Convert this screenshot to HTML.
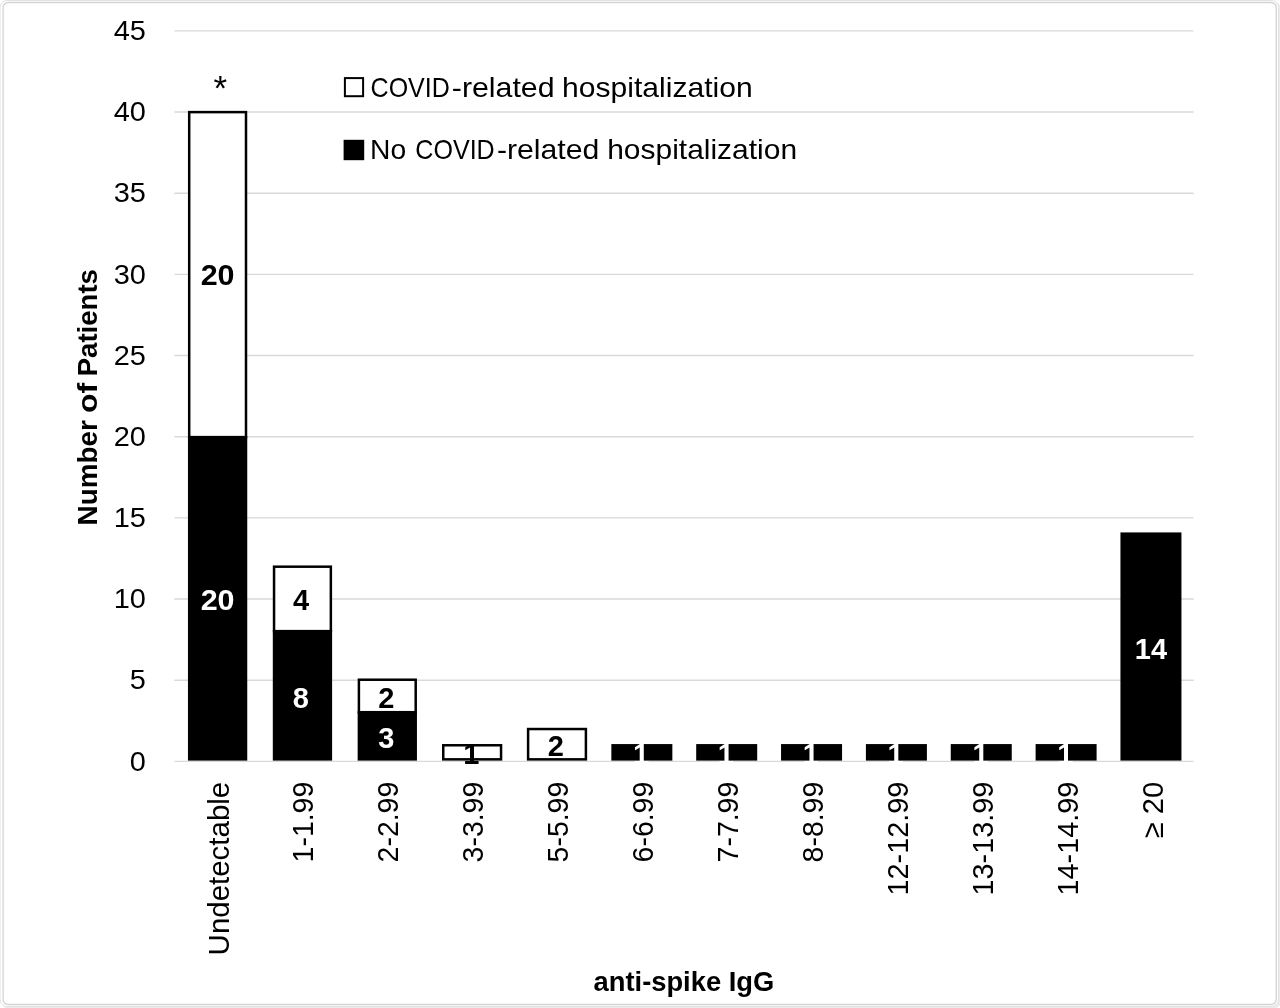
<!DOCTYPE html>
<html lang="en"><head><meta charset="utf-8"><title>anti-spike IgG chart</title>
<style>html,body{margin:0;padding:0;background:#fff;}body{width:1280px;height:1008px;overflow:hidden;}svg{display:block;}text{font-family:"Liberation Sans", sans-serif;font-size:27.6px;fill:#000;}.b{font-weight:bold;}.xl{font-size:29.8px;}.dl{font-size:29px;}.ti{font-size:28.3px;}.w{fill:#fff;}</style></head><body>
<svg width="1280" height="1008" viewBox="0 0 1280 1008">
<rect x="0" y="0" width="1280" height="1008" fill="#fff"/>
<rect x="1.2" y="1.2" width="1279.5" height="1007.5" rx="7.5" ry="7.5" fill="#ebebeb"/>
<rect x="0.1" y="0.5" width="1278.4" height="1006" rx="7" ry="7" fill="#fff" stroke="#e2e2e2" stroke-width="1"/>
<rect x="3.1" y="2.5" width="1273.1" height="1002" rx="5" ry="5" fill="#fff" stroke="#d3d3d3" stroke-width="1.3"/>
<line x1="174.4" y1="761.40" x2="1193.6" y2="761.40" stroke="#d9d9d9" stroke-width="1.4"/>
<line x1="174.4" y1="680.23" x2="1193.6" y2="680.23" stroke="#d9d9d9" stroke-width="1.4"/>
<line x1="174.4" y1="599.06" x2="1193.6" y2="599.06" stroke="#d9d9d9" stroke-width="1.4"/>
<line x1="174.4" y1="517.88" x2="1193.6" y2="517.88" stroke="#d9d9d9" stroke-width="1.4"/>
<line x1="174.4" y1="436.71" x2="1193.6" y2="436.71" stroke="#d9d9d9" stroke-width="1.4"/>
<line x1="174.4" y1="355.54" x2="1193.6" y2="355.54" stroke="#d9d9d9" stroke-width="1.4"/>
<line x1="174.4" y1="274.37" x2="1193.6" y2="274.37" stroke="#d9d9d9" stroke-width="1.4"/>
<line x1="174.4" y1="193.20" x2="1193.6" y2="193.20" stroke="#d9d9d9" stroke-width="1.4"/>
<line x1="174.4" y1="112.02" x2="1193.6" y2="112.02" stroke="#d9d9d9" stroke-width="1.4"/>
<line x1="174.4" y1="30.85" x2="1193.6" y2="30.85" stroke="#d9d9d9" stroke-width="1.4"/>
<text x="145.9" y="770.60" text-anchor="end" textLength="16.1" lengthAdjust="spacingAndGlyphs">0</text>
<text x="145.9" y="689.43" text-anchor="end" textLength="16.1" lengthAdjust="spacingAndGlyphs">5</text>
<text x="145.9" y="608.26" text-anchor="end" textLength="32.2" lengthAdjust="spacingAndGlyphs">10</text>
<text x="145.9" y="527.08" text-anchor="end" textLength="32.2" lengthAdjust="spacingAndGlyphs">15</text>
<text x="145.9" y="445.91" text-anchor="end" textLength="32.2" lengthAdjust="spacingAndGlyphs">20</text>
<text x="145.9" y="364.74" text-anchor="end" textLength="32.2" lengthAdjust="spacingAndGlyphs">25</text>
<text x="145.9" y="283.57" text-anchor="end" textLength="32.2" lengthAdjust="spacingAndGlyphs">30</text>
<text x="145.9" y="202.40" text-anchor="end" textLength="32.2" lengthAdjust="spacingAndGlyphs">35</text>
<text x="145.9" y="121.22" text-anchor="end" textLength="32.2" lengthAdjust="spacingAndGlyphs">40</text>
<text x="145.9" y="40.05" text-anchor="end" textLength="32.2" lengthAdjust="spacingAndGlyphs">45</text>
<rect x="187.95" y="436.01" width="59.30" height="324.59" fill="#000"/>
<rect x="189.20" y="112.12" width="56.80" height="324.99" fill="#fff" stroke="#000" stroke-width="2.5"/>
<rect x="272.80" y="630.02" width="59.30" height="130.58" fill="#000"/>
<rect x="274.05" y="566.69" width="56.80" height="64.44" fill="#fff" stroke="#000" stroke-width="2.5"/>
<rect x="357.65" y="711.10" width="59.30" height="49.50" fill="#000"/>
<rect x="358.90" y="679.73" width="56.80" height="32.47" fill="#fff" stroke="#000" stroke-width="2.5"/>
<rect x="443.25" y="745.27" width="57.80" height="14.08" fill="#fff" stroke="#000" stroke-width="2.5"/>
<rect x="528.10" y="729.03" width="57.80" height="30.32" fill="#fff" stroke="#000" stroke-width="2.5"/>
<rect x="611.35" y="744.07" width="61.00" height="16.53" fill="#000"/>
<rect x="696.20" y="744.07" width="61.00" height="16.53" fill="#000"/>
<rect x="781.05" y="744.07" width="61.00" height="16.53" fill="#000"/>
<rect x="865.90" y="744.07" width="61.00" height="16.53" fill="#000"/>
<rect x="950.75" y="744.07" width="61.00" height="16.53" fill="#000"/>
<rect x="1035.60" y="744.07" width="61.00" height="16.53" fill="#000"/>
<rect x="1120.45" y="532.42" width="61.00" height="228.18" fill="#000"/>
<text class="b w dl" x="217.60" y="610.16" text-anchor="middle" textLength="33.9" lengthAdjust="spacingAndGlyphs">20</text>
<text class="b dl" x="217.60" y="285.47" text-anchor="middle" textLength="33.9" lengthAdjust="spacingAndGlyphs">20</text>
<text class="b w dl" x="300.85" y="707.56" text-anchor="middle">8</text>
<text class="b dl" x="300.95" y="610.16" text-anchor="middle">4</text>
<text class="b w dl" x="386.20" y="748.15" text-anchor="middle">3</text>
<text class="b dl" x="386.20" y="707.56" text-anchor="middle">2</text>
<text class="b dl" x="471.35" y="764.38" text-anchor="middle">1</text>
<text class="b dl" x="555.90" y="756.27" text-anchor="middle">2</text>
<text class="b w dl" x="641.05" y="764.38" text-anchor="middle">1</text>
<text class="b w dl" x="725.90" y="764.38" text-anchor="middle">1</text>
<text class="b w dl" x="810.75" y="764.38" text-anchor="middle">1</text>
<text class="b w dl" x="895.60" y="764.38" text-anchor="middle">1</text>
<text class="b w dl" x="980.45" y="764.38" text-anchor="middle">1</text>
<text class="b w dl" x="1065.30" y="764.38" text-anchor="middle">1</text>
<text class="b w dl" x="1150.95" y="658.86" text-anchor="middle">14</text>
<text x="220.3" y="99.9" text-anchor="middle" style="font-size:35px">*</text>
<text class="xl" transform="translate(229.25 781.8) rotate(-90)" text-anchor="end" textLength="173.6" lengthAdjust="spacingAndGlyphs">Undetectable</text>
<text class="xl" transform="translate(313.25 781.8) rotate(-90)" text-anchor="end" textLength="80.6" lengthAdjust="spacingAndGlyphs">1-1.99</text>
<text class="xl" transform="translate(398.25 781.8) rotate(-90)" text-anchor="end" textLength="80.6" lengthAdjust="spacingAndGlyphs">2-2.99</text>
<text class="xl" transform="translate(483.25 781.8) rotate(-90)" text-anchor="end" textLength="80.6" lengthAdjust="spacingAndGlyphs">3-3.99</text>
<text class="xl" transform="translate(568.25 781.8) rotate(-90)" text-anchor="end" textLength="80.6" lengthAdjust="spacingAndGlyphs">5-5.99</text>
<text class="xl" transform="translate(653.25 781.8) rotate(-90)" text-anchor="end" textLength="80.6" lengthAdjust="spacingAndGlyphs">6-6.99</text>
<text class="xl" transform="translate(738.25 781.8) rotate(-90)" text-anchor="end" textLength="80.6" lengthAdjust="spacingAndGlyphs">7-7.99</text>
<text class="xl" transform="translate(823.25 781.8) rotate(-90)" text-anchor="end" textLength="80.6" lengthAdjust="spacingAndGlyphs">8-8.99</text>
<text class="xl" transform="translate(908.25 781.8) rotate(-90)" text-anchor="end" textLength="113.6" lengthAdjust="spacingAndGlyphs">12-12.99</text>
<text class="xl" transform="translate(993.25 781.8) rotate(-90)" text-anchor="end" textLength="113.6" lengthAdjust="spacingAndGlyphs">13-13.99</text>
<text class="xl" transform="translate(1078.25 781.8) rotate(-90)" text-anchor="end" textLength="113.6" lengthAdjust="spacingAndGlyphs">14-14.99</text>
<text class="xl" transform="translate(1163.25 781.8) rotate(-90)" text-anchor="end" textLength="56.4" lengthAdjust="spacingAndGlyphs">≥ 20</text>
<text class="b ti" transform="translate(96.9 523.4) rotate(-90)"><tspan x="-2.0" textLength="105.3" lengthAdjust="spacingAndGlyphs">Number</tspan> <tspan x="110.3" textLength="30.2" lengthAdjust="spacingAndGlyphs">of</tspan> <tspan x="147.1" textLength="107.2" lengthAdjust="spacingAndGlyphs">Patients</tspan></text>
<text class="b ti" x="683.9" y="991.1" text-anchor="middle" textLength="180.7" lengthAdjust="spacingAndGlyphs">anti-spike IgG</text>
<rect x="344.9" y="78.1" width="18.2" height="18.1" fill="#fff" stroke="#000" stroke-width="2"/>
<rect x="343.6" y="139.8" width="20.6" height="20.4" fill="#000"/>
<text y="96.7"><tspan x="370.6" textLength="79.2" lengthAdjust="spacingAndGlyphs">COVID</tspan><tspan x="451.8" textLength="102.8" lengthAdjust="spacingAndGlyphs">-related</tspan> <tspan x="562.1" textLength="190.6" lengthAdjust="spacingAndGlyphs">hospitalization</tspan></text>
<text y="158.9"><tspan x="370.0" textLength="36.1" lengthAdjust="spacingAndGlyphs">No</tspan> <tspan x="415.3" textLength="79.4" lengthAdjust="spacingAndGlyphs">COVID</tspan><tspan x="496.9" textLength="102.4" lengthAdjust="spacingAndGlyphs">-related</tspan> <tspan x="607.2" textLength="189.9" lengthAdjust="spacingAndGlyphs">hospitalization</tspan></text>
</svg></body></html>
